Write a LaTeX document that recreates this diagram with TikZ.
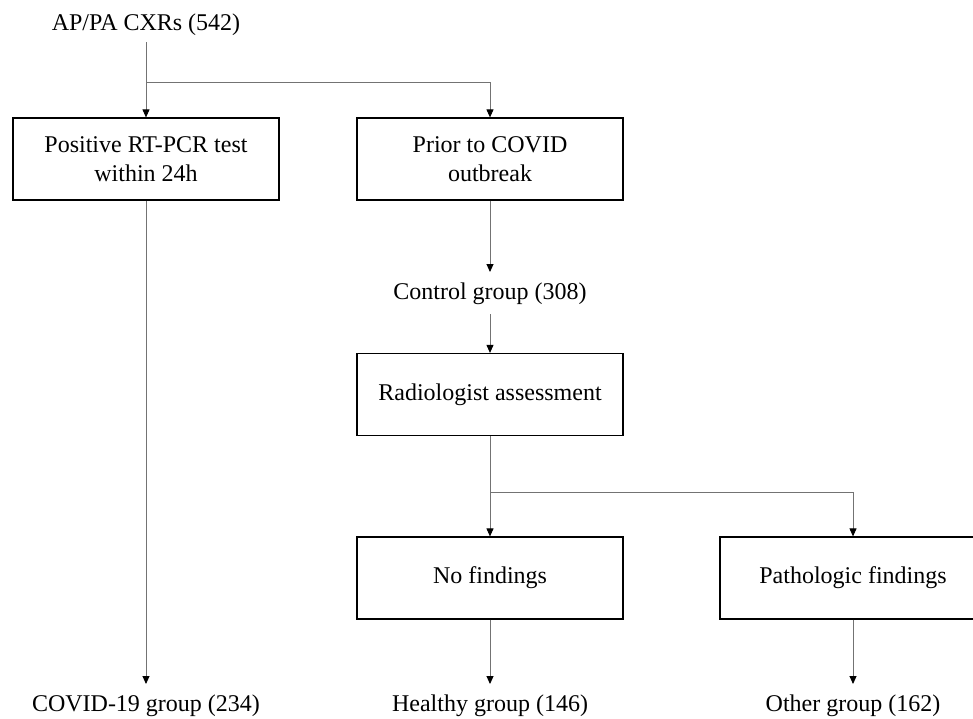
\documentclass[tikz,border=0pt]{standalone}
\usepackage{fontspec}
\setmainfont{Liberation Serif}
\usepackage{tikz}
\usetikzlibrary{arrows.meta,positioning}
\tikzstyle{stage} = [rectangle,draw=black,line width=1.2pt,minimum width=266pt,minimum height=82pt,align=center,inner sep=4pt]
\tikzstyle{tally} = [inner sep=0pt,outer sep=10pt,text height=17pt,text depth=5pt]
\tikzstyle{flow} = [draw=black!55,line width=0.9pt]

\begin{document}
\begin{tikzpicture}[x=1pt,y=-1pt,font=\fontsize{24}{29}\selectfont,>={Triangle[black,length=8pt,width=7pt]}]
				\useasboundingbox (0,0) rectangle (973,718);
				\clip (0,0) rectangle (973,718);
				% left column
				\node[tally,outer sep=7pt] (cxr) at (146,24) {AP/PA CXRs (542)};
				\node[stage] (pcr) at (146,159) {Positive RT-PCR test\\within 24h};
				\node[tally] (covid) at (146,705) {COVID-19 group (234)};
				% middle column
				\node[stage] (prior) at (490,159) {Prior to COVID\\outbreak};
				\node[tally] (control) at (490,293) {Control group (308)};
				\node[stage] (radio) at (490,394.5) {Radiologist assessment};
				\node[stage] (nofind) at (490,578) {No findings};
				\node[tally] (healthy) at (490,705) {Healthy group (146)};
				% right column
				\node[stage] (patho) at (853,578) {Pathologic findings};
				\node[tally] (other) at (853,705) {Other group (162)};
				
				\coordinate (split1) at (146,82);
				\coordinate (split2) at (490,492);
				\draw[flow] (cxr) -- (split1);
				\draw[flow,->] (split1) -- (pcr);
				\draw[flow,->] (split1) -| (prior.north);
				\draw[flow,->] (pcr) -- (covid);
				\draw[flow,->] (prior) -- (control);
				\draw[flow,->] (control) -- (radio);
				\draw[flow] (radio) -- (split2);
				\draw[flow,->] (split2) -- (nofind);
				\draw[flow,->] (split2) -| (patho.north);
				\draw[flow,->] (nofind) -- (healthy);
				\draw[flow,->] (patho) -- (other);
\end{tikzpicture}
\end{document}
